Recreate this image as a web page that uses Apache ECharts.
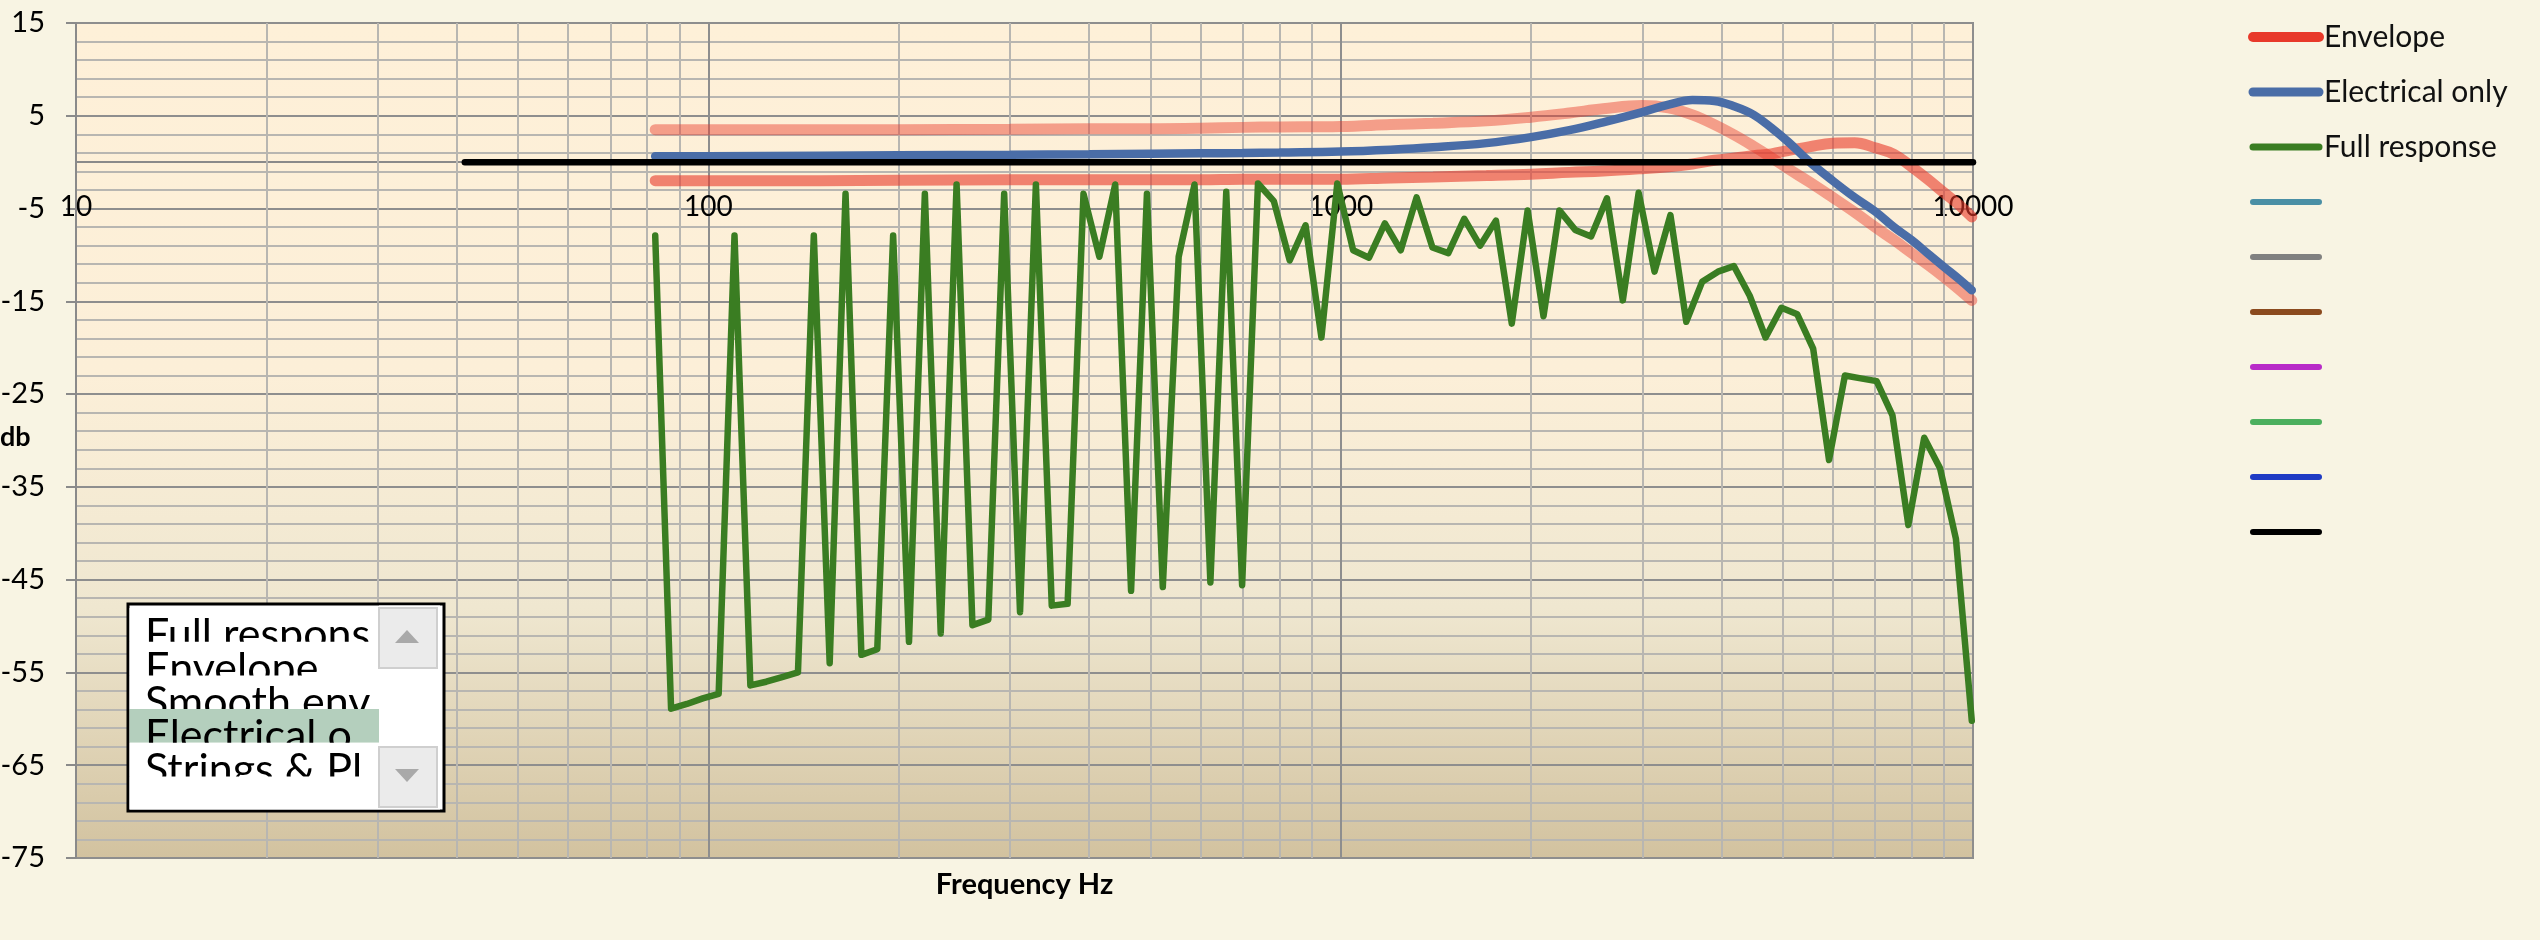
<!DOCTYPE html>
<html>
<head>
<meta charset="utf-8">
<script src="https://cdn.jsdelivr.net/npm/echarts@6/dist/echarts.min.js"></script>
<style>
  html, body { margin: 0; padding: 0; background: #F8F4E3; }
  #chart { width: 2540px; height: 940px; }
</style>
</head>
<body>
<div id="chart"></div>
<script>
// ---------------- data ----------------
const minorGridFreqs = [20, 30, 40, 50, 60, 70, 80, 90,
  200, 300, 400, 500, 600, 700, 800, 900,
  2000, 3000, 4000, 5000, 6000, 7000, 8000, 9000];

// semitone frequencies from E2 (Hz)
const noteFreqs = [82.41, 87.31, 92.50, 98.00, 103.83, 110.00, 116.54, 123.47, 130.81, 138.59, 146.83, 155.56,
  164.81, 174.61, 185.00, 196.00, 207.65, 220.00, 233.08, 246.94, 261.63, 277.18, 293.66, 311.13,
  329.63, 349.23, 369.99, 392.00, 415.30, 440.00, 466.16, 493.88, 523.25, 554.37, 587.33, 622.25,
  659.26, 698.46, 739.99, 783.99, 830.61, 880.00, 932.33, 987.77, 1046.50, 1108.73, 1174.66, 1244.51,
  1318.51, 1396.91, 1479.98, 1567.98, 1661.22, 1760.00, 1864.66, 1975.53, 2093.00, 2217.46, 2349.32, 2489.02,
  2637.02, 2793.83, 2959.96, 3135.96, 3322.44, 3520.00, 3729.31, 3951.07, 4186.01, 4434.92, 4698.63, 4978.03,
  5274.04, 5587.65, 5919.91, 6271.93, 6644.88, 7040.00, 7458.62, 7902.13, 8372.02, 8869.84, 9397.27, 9956.06];

const fullResponse = [-7.9, -58.9, -58.4, -57.8, -57.3, -7.9, -56.4, -56.0, -55.5, -55.0, -7.9, -54.0,
  -3.4, -53.1, -52.5, -7.9, -51.7, -3.4, -50.8, -2.4, -49.9, -49.3, -3.4, -48.5,
  -2.4, -47.8, -47.6, -3.4, -10.2, -2.4, -46.2, -3.4, -45.8, -10.2, -2.4, -45.3,
  -3.2, -45.6, -2.3, -4.2, -10.6, -6.8, -18.9, -2.3, -9.5, -10.3, -6.6, -9.5,
  -3.8, -9.2, -9.8, -6.1, -9.0, -6.3, -17.4, -5.2, -16.6, -5.2, -7.3, -8.0,
  -3.9, -14.9, -3.3, -11.8, -5.7, -17.2, -12.9, -11.8, -11.2, -14.4, -18.9, -15.7,
  -16.4, -20.1, -32.1, -23.0, -23.3, -23.6, -27.3, -39.1, -29.7, -33.0, -40.6, -60.2];

const curveFreqs = [82.41, 100, 150, 200, 300, 400, 500, 600, 700, 800, 1000, 1200, 1400, 1700, 2000,
  2300, 2600, 3000, 3300, 3600, 3900, 4200, 4500, 4800, 5100, 5500, 6000, 6500, 7000, 7500, 8000,
  8500, 9000, 9500, 9956];
const envelopeUpper = [3.5, 3.5, 3.5, 3.5, 3.55, 3.6, 3.6, 3.65, 3.75, 3.8, 3.85, 4.05, 4.2, 4.45, 4.85,
  5.3, 5.75, 6.1, 5.85, 5.1, 4.05, 2.9, 1.7, 0.5, -0.7, -2.1, -3.8, -5.4, -7.0, -8.4, -9.8,
  -11.1, -12.4, -13.7, -14.9];
const envelopeLower = [-2.0, -2.0, -2.0, -1.95, -1.9, -1.9, -1.9, -1.9, -1.85, -1.85, -1.85, -1.7, -1.6, -1.45, -1.3,
  -1.1, -0.95, -0.7, -0.5, -0.2, 0.2, 0.45, 0.7, 0.9, 1.25, 1.65, 2.05, 2.1, 1.55, 0.85, -0.5,
  -1.9, -3.3, -4.6, -5.9];
const electricalOnly = [0.65, 0.65, 0.7, 0.75, 0.8, 0.85, 0.9, 0.95, 1.0, 1.05, 1.15, 1.35, 1.6, 2.05, 2.7,
  3.45, 4.3, 5.4, 6.2, 6.7, 6.6, 6.0, 5.1, 3.7, 2.2, 0.1, -2.0, -3.8, -5.3, -7.0, -8.4,
  -9.9, -11.3, -12.6, -13.8];

const refLineFreqs = [41.2, 10000];
const refLineValues = [0, 0];

const legendNames = ['Envelope', 'Electrical only', 'Full response', ' ', '  ', '   ', '    ', '     ', '      ', '       '];
const listItems = ['Full response', 'Envelope', 'Smooth envelope', 'Electrical only', 'Strings & Plate'];
const selectedListIndex = 3;

// ---------------- styling ----------------
const FONT = 'Lato';
const colors = {
  envelope: '#E8392A', envUpper: 'rgba(232,57,42,0.45)', envLower: 'rgba(232,57,42,0.6)',
  electrical: '#4A6DA7', full: '#3A7D22',
  extra: ['#4A8FA5', '#808080', '#8B4A1E', '#B82BC8', '#4CAF5E', '#1F3BC4', '#000000']
};

function pairs(xs, ys) { return xs.map((x, i) => [x, ys[i]]); }

const series = [];
// vertical minor grid lines (through the library's log scale)
series.push({
  type: 'line', name: '_grid', data: [], silent: true, symbol: 'none',
  markLine: {
    silent: true, z: 1, symbol: ['none', 'none'], label: { show: false }, animation: false,
    lineStyle: { color: '#B8B6B1', width: 2, type: 'solid' },
    emphasis: { disabled: true },
    data: minorGridFreqs.map(f => ({ xAxis: f }))
  }
});
series.push({ type: 'line', name: 'Envelope', data: pairs(curveFreqs, envelopeUpper), symbol: 'none', smooth: 0.4,
  lineStyle: { color: colors.envUpper, width: 11, cap: 'round' }, itemStyle: { color: colors.envelope } });
series.push({ type: 'line', name: 'Envelope', data: pairs(curveFreqs, envelopeLower), symbol: 'none', smooth: 0.4,
  lineStyle: { color: colors.envLower, width: 11, cap: 'round' }, itemStyle: { color: colors.envelope } });
series.push({ type: 'line', name: 'Electrical only', data: pairs(curveFreqs, electricalOnly), symbol: 'none', smooth: 0.4,
  lineStyle: { color: colors.electrical, width: 8.5, cap: 'round' }, itemStyle: { color: colors.electrical } });
series.push({ type: 'line', name: 'Full response', data: pairs(noteFreqs, fullResponse), symbol: 'none',
  lineStyle: { color: colors.full, width: 6.5, cap: 'round', join: 'round' }, itemStyle: { color: colors.full } });
for (let i = 0; i < 6; i++) {
  series.push({ type: 'line', name: legendNames[3 + i], data: [], symbol: 'none',
    lineStyle: { color: colors.extra[i], width: 5 }, itemStyle: { color: colors.extra[i] } });
}
series.push({ type: 'line', name: legendNames[9], data: pairs(refLineFreqs, refLineValues), symbol: 'none',
  lineStyle: { color: '#000', width: 6.5, cap: 'round' }, itemStyle: { color: '#000' } });

const legendWidths = [10, 9, 7, 6, 6, 6, 6, 6, 6, 6];
const legendColors = [colors.envelope, colors.electrical, colors.full].concat(colors.extra);
const legendData = legendNames.map((n, i) => ({
  name: n,
  itemStyle: { color: 'rgba(0,0,0,0)', borderWidth: 0, opacity: 0 },
  lineStyle: { color: legendColors[i], width: legendWidths[i], cap: 'round', opacity: 1 }
}));

// list box widget (graphic)
const box = { x: 128, y: 604, w: 316, h: 207, rowTop: 608, rowH: 33.7, textX: 145, sbX: 379, sbW: 61 };
const graphics = [];
let zc = 100;
graphics.push({ type: 'rect', z: zc++, shape: { x: box.x, y: box.y, width: box.w, height: box.h },
  style: { fill: '#fff', stroke: '#000', lineWidth: 3 } });
listItems.forEach((t, i) => {
  const top = box.rowTop + i * box.rowH;
  graphics.push({ type: 'rect', z: zc++, shape: { x: box.x + 1.5, y: top, width: box.sbX - box.x - 1.5, height: box.rowH },
    style: { fill: i === selectedListIndex ? '#B4CFBD' : '#fff' } });
  graphics.push({ type: 'text', z: zc++, x: box.textX, y: top + 6,
    style: { text: t, fill: '#000', font: '43px ' + FONT, width: box.sbX - box.textX - 4, overflow: 'truncate', ellipsis: '', verticalAlign: 'top' } });
});
// cover below last row
graphics.push({ type: 'rect', z: zc++, shape: { x: box.x + 1.5, y: box.rowTop + listItems.length * box.rowH, width: box.sbX - box.x - 1.5, height: box.y + box.h - 1.5 - (box.rowTop + listItems.length * box.rowH) },
  style: { fill: '#fff' } });
// scrollbar
graphics.push({ type: 'rect', z: zc++, shape: { x: box.sbX, y: box.y + 1.5, width: box.sbW, height: box.h - 3 }, style: { fill: '#fff' } });
graphics.push({ type: 'rect', z: zc++, shape: { x: box.sbX, y: 608, width: box.sbW - 3, height: 60 }, style: { fill: '#EBEBEB', stroke: '#CFCFCF', lineWidth: 2 } });
graphics.push({ type: 'rect', z: zc++, shape: { x: box.sbX, y: 747, width: box.sbW - 3, height: 60 }, style: { fill: '#EBEBEB', stroke: '#CFCFCF', lineWidth: 2 } });
graphics.push({ type: 'polygon', z: zc++, shape: { points: [[395, 643], [419, 643], [407, 630]] }, style: { fill: '#A9A9A9' } });
graphics.push({ type: 'polygon', z: zc++, shape: { points: [[395, 769], [419, 769], [407, 782]] }, style: { fill: '#A9A9A9' } });
// y-axis title
graphics.push({ type: 'text', z: zc++, x: 0, y: 437,
  style: { text: 'db', fill: '#000', font: 'bold 27px ' + FONT, verticalAlign: 'middle', align: 'left' } });

// grid geometry: plot spans 15 .. -75 dB
const GRID_TOP = 23, GRID_BOTTOM = 82, CANVAS_H = 940;
const plotH = CANVAS_H - GRID_TOP - GRID_BOTTOM;
const zeroOffset = -Math.round(plotH * 75 / 90); // move the frequency axis up to the 0 dB line

const option = {
  animation: false,
  backgroundColor: '#F8F4E3',
  textStyle: { fontFamily: FONT },
  grid: {
    left: 76, right: 567, top: GRID_TOP, bottom: GRID_BOTTOM, containLabel: false, outerBoundsMode: 'none',
    show: true, borderColor: '#8C8C8C', borderWidth: 2,
    backgroundColor: { type: 'linear', x: 0, y: 0, x2: 0, y2: 1, colorStops: [
      { offset: 0, color: '#FEF0D8' }, { offset: 0.42, color: '#FCEFD8' },
      { offset: 0.7, color: '#EFE7D0' }, { offset: 1, color: '#D2C29F' } ] }
  },
  legend: {
    orient: 'vertical', left: 2243, top: 17, itemWidth: 66, itemHeight: 14, itemGap: 25,
    selectedMode: false,
    textStyle: { fontFamily: FONT, fontSize: 30, color: '#111', lineHeight: 30 },
    data: legendData
  },
  xAxis: [{
    type: 'log', logBase: 10, min: 10, max: 10000, position: 'bottom', offset: zeroOffset,
    axisLine: { show: true, onZero: false, lineStyle: { color: '#8A8A8A', width: 2 } },
    axisTick: { show: false },
    axisLabel: { color: '#000', fontSize: 28, fontFamily: FONT, margin: 31, lineHeight: 28,
      formatter: v => String(Math.round(v)) },
    splitLine: { show: true, lineStyle: { color: '#8E8E8E', width: 2 } }
  }, {
    type: 'log', logBase: 10, min: 10, max: 10000, position: 'bottom', offset: 0,
    axisLine: { show: false, onZero: false }, axisTick: { show: false }, axisLabel: { show: false },
    splitLine: { show: false },
    name: 'Frequency Hz', nameLocation: 'middle', nameGap: 12,
    nameTextStyle: { fontFamily: FONT, fontSize: 29, fontWeight: 'bold', color: '#000' }
  }],
  yAxis: {
    type: 'value', min: -75, max: 15, interval: 10,
    axisLine: { show: true, lineStyle: { color: '#8A8A8A', width: 2 } },
    axisTick: { show: true, length: 10, lineStyle: { color: '#8A8A8A', width: 2 } },
    axisLabel: { color: '#000', fontSize: 29, fontFamily: FONT, margin: 31 },
    splitLine: { show: true, lineStyle: { color: '#8E8E8E', width: 2 } },
    minorTick: { show: false, splitNumber: 5 },
    minorSplitLine: { show: true, lineStyle: { color: '#B8B6B1', width: 2 } }
  },
  series: series,
  graphic: graphics
};

const chart = echarts.init(document.getElementById('chart'), null, { renderer: 'canvas' });
chart.setOption(option);
</script>
</body>
</html>
